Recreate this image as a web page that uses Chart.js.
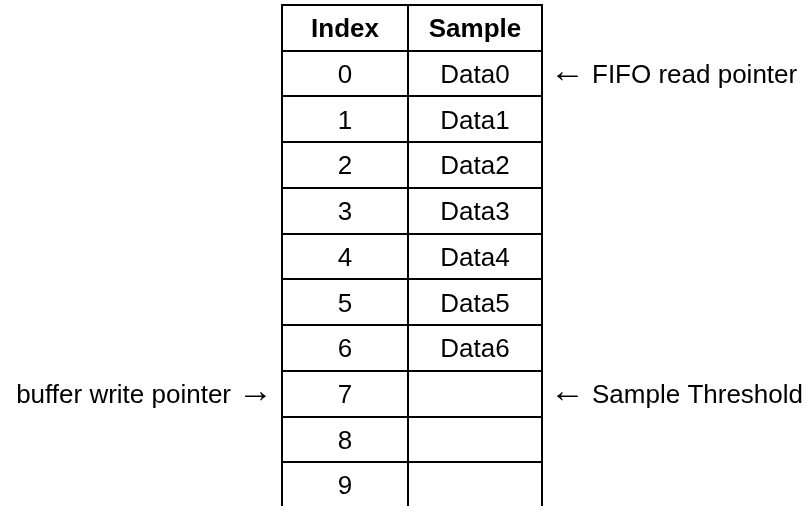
<!DOCTYPE html>
<html>
<head>
<meta charset="utf-8">
<script src="https://cdn.jsdelivr.net/npm/chart.js@4.4.1/dist/chart.umd.min.js"></script>
<style>
  html, body { margin: 0; padding: 0; background: #fff; overflow: hidden; }
  #wrap { position: relative; width: 807px; height: 510px; }
</style>
</head>
<body>
<div id="wrap"><canvas id="fifoTable"></canvas></div>
<script>
// ── Table content ──────────────────────────────────────────────────────────────
const headers = ['Index', 'Sample'];
const indexLabels = ['0', '1', '2', '3', '4', '5', '6', '7', '8', '9'];
const sampleLabels = ['Data0', 'Data1', 'Data2', 'Data3', 'Data4', 'Data5', 'Data6', '', '', ''];

// pointer notes, row = index of the data row they point at
const rightNotes = ['← FIFO read pointer', '← Sample Threshold'];
const rightNoteRows = [0, 7];
const leftNotes = ['buffer write pointer →'];
const leftNoteRows = [7];

// ── Layout (column edges in x-scale units, header + data rows) ────────────────
const COL_EDGES = [0, 126, 260];
const ROW_COUNT = indexLabels.length + 1;
const FONT = '"Liberation Sans", Arial, Helvetica, sans-serif';
const SIZE = 26;
const ARROW_FONT = '35px ' + FONT;
const CAP = SIZE * 0.716;      // cap height, used to centre text in a row

const colCenter = c => (COL_EDGES[c] + COL_EDGES[c + 1]) / 2;

// text of each cell sits at a point of its column dataset
const columnLabels = [indexLabels, sampleLabels];
const datasets = columnLabels.map((labels, c) => ({
  label: headers[c],
  cellText: labels,
  data: labels.map((_, i) => ({ x: colCenter(c), y: i + 1.5 })),
  pointRadius: 0,
  showLine: false
}));

// arrow glyph with its ink starting at x0 (or ending at x0 when alignRight), centred on yMid
function drawArrow(ctx, ch, x0, yMid, alignRight) {
  ctx.font = ARROW_FONT;
  ctx.textAlign = 'left';
  const m = ctx.measureText(ch);
  const inkMid = (m.actualBoundingBoxAscent - m.actualBoundingBoxDescent) / 2;
  const x = alignRight ? x0 - m.actualBoundingBoxRight : x0 + m.actualBoundingBoxLeft;
  ctx.fillText(ch, x, yMid + inkMid);
}

// ── Plugin: cell text and pointer notes ───────────────────────────────────────
const tableText = {
  id: 'tableText',
  afterDatasetsDraw(chart) {
    const { ctx, chartArea, scales: { x, y } } = chart;
    const rowMid = r => y.getPixelForValue(r + 0.5);
    ctx.save();
    ctx.fillStyle = '#000';
    ctx.textBaseline = 'alphabetic';

    ctx.textAlign = 'center';
    ctx.font = 'bold ' + SIZE + 'px ' + FONT;
    headers.forEach((h, c) => ctx.fillText(h, x.getPixelForValue(colCenter(c)), rowMid(0) + CAP / 2));

    ctx.font = SIZE + 'px ' + FONT;
    chart.data.datasets.forEach((ds, d) => {
      chart.getDatasetMeta(d).data.forEach((pt, i) => {
        if (ds.cellText[i]) ctx.fillText(ds.cellText[i], pt.x, pt.y + CAP / 2);
      });
    });

    rightNotes.forEach((t, i) => {
      const yMid = rowMid(rightNoteRows[i] + 1);
      drawArrow(ctx, t[0], chartArea.right + 15, yMid + 3, false);
      ctx.font = SIZE + 'px ' + FONT;
      ctx.textAlign = 'left';
      ctx.fillText(t.slice(1).trim(), chartArea.right + 50, yMid + CAP / 2);
    });

    leftNotes.forEach((t, i) => {
      const yMid = rowMid(leftNoteRows[i] + 1);
      drawArrow(ctx, t[t.length - 1], chartArea.left - 16, yMid + 3, true);
      ctx.font = SIZE + 'px ' + FONT;
      ctx.textAlign = 'right';
      ctx.fillText(t.slice(0, -1).trim(), chartArea.left - 51, yMid + CAP / 2);
    });
    ctx.restore();
  }
};

const gridOpts = { color: '#000', lineWidth: 2, drawTicks: false };
const borderOpts = { color: '#000', width: 2 };

new Chart(document.getElementById('fifoTable'), {
  type: 'scatter',
  data: { datasets },
  options: {
    responsive: true,
    maintainAspectRatio: false,
    animation: false,
    events: [],
    layout: { padding: { left: 282, right: 265, top: 5, bottom: 2 } },
    plugins: { legend: { display: false }, tooltip: { enabled: false } },
    scales: {
      x: {
        type: 'linear', min: COL_EDGES[0], max: COL_EDGES[COL_EDGES.length - 1],
        position: 'top',
        afterBuildTicks: s => { s.ticks = COL_EDGES.map(v => ({ value: v })); },
        ticks: { display: false },
        grid: gridOpts, border: borderOpts
      },
      y: {
        type: 'linear', min: 0, max: ROW_COUNT, reverse: true,
        afterBuildTicks: s => { s.ticks = Array.from({ length: ROW_COUNT + 1 }, (_, i) => ({ value: i })); },
        ticks: { display: false },
        grid: gridOpts, border: borderOpts
      }
    }
  },
  plugins: [tableText]
});
</script>
</body>
</html>
